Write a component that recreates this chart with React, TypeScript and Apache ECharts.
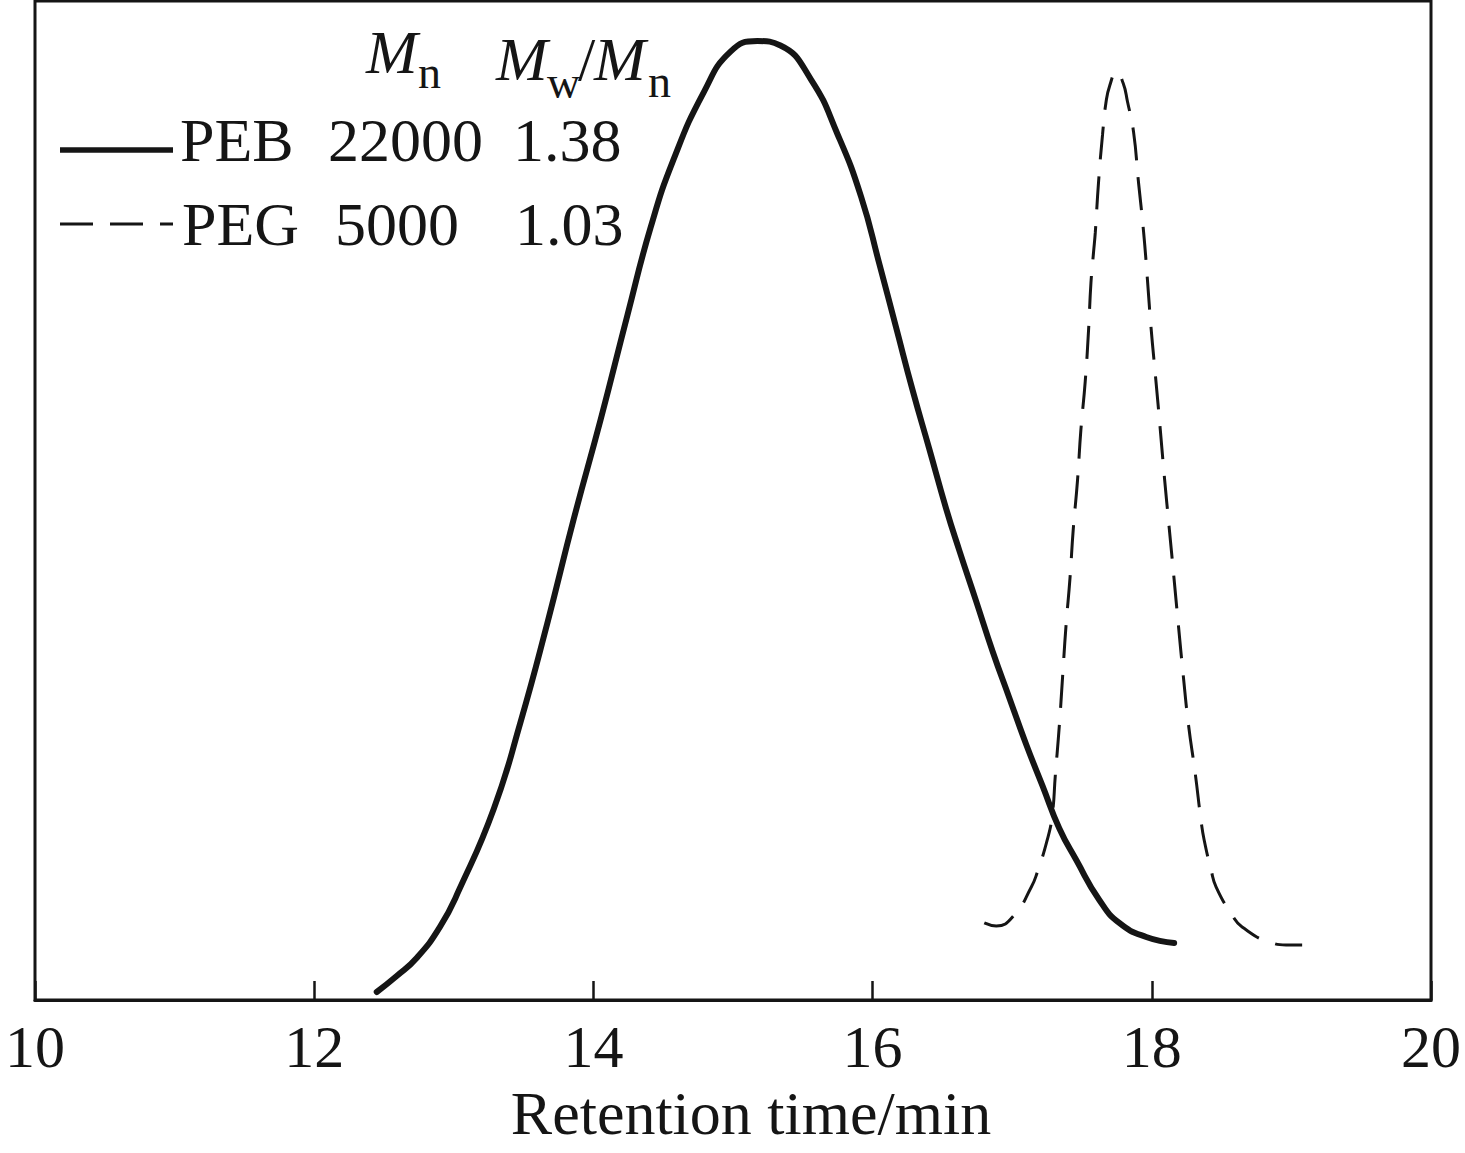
import React, { useEffect, useRef } from "react";
import * as echarts from "echarts";

// Retention time (min) and detector response (relative units)
const pebTime = [12.448, 12.591, 12.734, 12.902, 13.039, 13.286, 13.477, 13.669, 13.86, 14.052, 14.245, 14.409, 14.573, 14.792, 14.982, 15.175, 15.34, 15.559, 15.751, 15.918, 16.049, 16.168, 16.287, 16.407, 16.526, 16.621, 16.741, 16.86, 16.979, 17.099, 17.218, 17.337, 17.459, 17.624, 17.767, 17.96, 18.16];
const pebSignal = [0.8, 2.4, 4.2, 7.34, 11.05, 19.12, 27.77, 37.67, 48.19, 58.1, 68.62, 77.28, 84.09, 90.91, 94.93, 95.99, 95.55, 92.14, 86.59, 80.4, 73.65, 67.34, 61.02, 55.12, 49.22, 45.01, 39.95, 34.89, 30.26, 25.63, 21.41, 17.2, 14.01, 10.01, 7.71, 6.31, 5.71];

const pegTime = [16.8, 16.886, 17.015, 17.137, 17.18, 17.251, 17.287, 17.309, 17.337, 17.361, 17.385, 17.414, 17.437, 17.468, 17.492, 17.523, 17.547, 17.564, 17.583, 17.595, 17.618, 17.647, 17.671, 17.7, 17.747, 17.795, 17.826, 17.869, 17.905, 17.941, 17.969, 17.994, 18.029, 18.06, 18.091, 18.125, 18.158, 18.191, 18.225, 18.263, 18.311, 18.354, 18.375, 18.425, 18.461, 18.575, 18.647, 18.862, 18.962, 19.077];
const pegSignal = [7.71, 7.41, 8.51, 11.31, 12.81, 16.02, 18.52, 22.52, 27.36, 32.36, 37.37, 42.24, 47.05, 52.05, 57.06, 61.89, 67.07, 71.77, 74.9, 76.78, 81.78, 86.59, 89.76, 91.59, 92.92, 91.76, 89.92, 86.92, 81.81, 76.91, 72.07, 67.4, 62.06, 57.23, 52.22, 47.22, 42.37, 37.44, 32.53, 27.53, 22.69, 17.82, 16.02, 13.01, 11.31, 8.51, 7.31, 5.71, 5.51, 5.51];

// Legend table
const legendNames = ["PEB", "PEG"];
const legendMn = ["22000", "5000"];
const legendPdi = ["1.38", "1.03"];

const xMin = 10;
const xMax = 20;
const xInterval = 2;
const xTitle = "Retention time/min";

const INK = "#151515";
const FONT = '"Liberation Serif", "Times New Roman", serif';

export default function App() {
  const ref = useRef<HTMLDivElement>(null);

  useEffect(() => {
    if (!ref.current) return;
    const chart = echarts.init(ref.current, null, { renderer: "svg" });

    const txt = (text: string, x: number, y: number, size: number, italic = false, align = "left") => ({
      type: "text",
      x,
      y,
      silent: true,
      style: {
        text,
        fill: INK,
        font: `${italic ? "italic " : ""}${size}px ${FONT}`,
        textAlign: align,
        textVerticalAlign: "middle",
        verticalAlign: "middle",
      },
    });

    const rowY = [139.5, 224];
    const graphics: any[] = [
      // header
      txt("M", 366, 51.5, 62, true),
      txt("n", 418, 72.5, 46),
      txt("M", 496, 58.5, 62, true),
      txt("w", 547, 82.5, 46),
      txt("/", 578, 58.5, 62),
      txt("M", 594, 58.5, 62, true),
      txt("n", 648, 81.5, 46),
      // sample lines
      {
        type: "line",
        silent: true,
        shape: { x1: 60, y1: 150, x2: 173, y2: 150 },
        style: { stroke: INK, lineWidth: 5.5 },
      },
      {
        type: "line",
        silent: true,
        shape: { x1: 60, y1: 224, x2: 173, y2: 224 },
        style: { stroke: INK, lineWidth: 3.2, lineDash: [33, 17] },
      },
      txt(legendNames[0], 180, rowY[0], 62),
      txt(legendMn[0], 328, rowY[0], 62),
      txt(legendPdi[0], 513, rowY[0], 62),
      txt(legendNames[1], 182, rowY[1], 62),
      txt(legendMn[1], 335, rowY[1], 62),
      txt(legendPdi[1], 515, rowY[1], 62),
      // x axis title
      txt(xTitle, 751, 1112.5, 62, false, "center"),
    ];

    chart.setOption({
      animation: false,
      backgroundColor: "#ffffff",
      grid: {
        left: 35,
        right: 34,
        top: 1,
        bottom: 153,
        show: true,
        borderColor: INK,
        borderWidth: 3,
        backgroundColor: "transparent",
      },
      xAxis: {
        type: "value",
        min: xMin,
        max: xMax,
        interval: xInterval,
        axisLine: { show: true, onZero: false, lineStyle: { color: INK, width: 3 } },
        axisTick: { show: true, inside: true, length: 19, lineStyle: { color: INK, width: 2.5 } },
        axisLabel: {
          show: true,
          color: INK,
          fontFamily: FONT,
          fontSize: 60,
          margin: 17,
          showMinLabel: true,
          showMaxLabel: true,
        },
        splitLine: { show: false },
      },
      yAxis: {
        type: "value",
        min: 0,
        max: 100,
        axisLine: { show: false },
        axisTick: { show: false },
        axisLabel: { show: false },
        splitLine: { show: false },
      },
      series: [
        {
          name: "PEB",
          type: "line",
          data: pebTime.map((t, i) => [t, pebSignal[i]]),
          smooth: 0.5,
          showSymbol: false,
          symbol: "none",
          lineStyle: { color: INK, width: 6, cap: "round" },
          silent: true,
        },
        {
          name: "PEG",
          type: "line",
          data: pegTime.map((t, i) => [t, pegSignal[i]]),
          smooth: 0.5,
          showSymbol: false,
          symbol: "none",
          lineStyle: { color: INK, width: 3, type: [33, 17] },
          silent: true,
        },
      ],
      graphic: graphics,
    });

    return () => chart.dispose();
  }, []);

  return (
    <div
      ref={ref}
      style={{ position: "fixed", left: 0, top: 0, width: 1465, height: 1153, background: "#fff" }}
    />
  );
}
